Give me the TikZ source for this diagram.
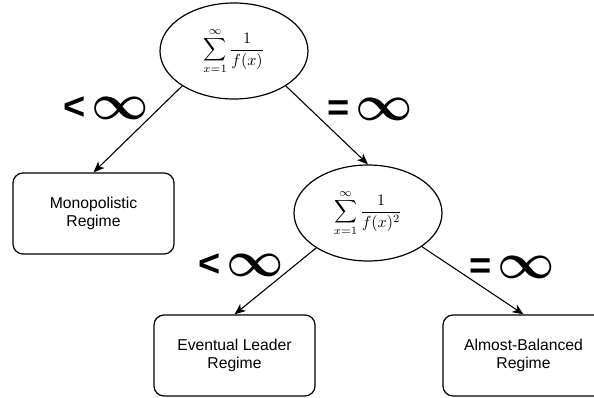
\documentclass[tikz,border=0pt]{standalone}
\usepackage{fix-cm}
\usepackage{graphicx}
\usepackage{fontspec}
\setmainfont{Liberation Sans}
\usetikzlibrary{arrows.meta,shapes.geometric}
\begin{document}
\begin{tikzpicture}[x=1pt,y=-1pt,
  ell/.style={draw, ellipse, line width=1.2pt, minimum width=148pt, minimum height=96pt, inner sep=0pt},
  box/.style={draw, rounded corners=10pt, line width=1.2pt, minimum width=161pt, minimum height=81pt, align=center, font=\fontsize{15.7}{18}\selectfont},
  edge/.style={line width=1.1pt, -{Stealth[length=11pt,width=9pt,inset=3pt]}},
  lbl/.style={inner sep=0pt, font=\fontsize{38}{38}\selectfont\bfseries}]
\useasboundingbox (0,0) rectangle (594,398);
\clip (0,0) rectangle (594,398);
\node[ell] (e1) at (234,51) {\scalebox{1.6}{$\displaystyle\sum_{x=1}^{\infty}\frac{1}{f(x)}$}};
\node[ell] (e2) at (368,213) {\scalebox{1.6}{$\displaystyle\sum_{x=1}^{\infty}\frac{1}{f(x)^2}$}};
\node[box] (b1) at (93.5,213.5) {Monopolistic\\Regime};
\node[box] (b2) at (234.5,355.5) {Eventual Leader\\Regime};
\node[box] (b3) at (523.5,355.5) {Almost-Balanced\\Regime};
\node[lbl] (l1) at (106,108) {<\hspace{6pt}{\fontsize{50}{50}\selectfont\boldmath$\infty$}};
\node[lbl] (l2) at (370,109) {=\hspace{6pt}{\fontsize{50}{50}\selectfont\boldmath$\infty$}};
\node[lbl] (l3) at (241,265) {<\hspace{6pt}{\fontsize{50}{50}\selectfont\boldmath$\infty$}};
\node[lbl] (l4) at (512,267) {=\hspace{6pt}{\fontsize{50}{50}\selectfont\boldmath$\infty$}};
\draw[edge] (e1.214) -- (b1.north);
\draw[edge] (e1.326) -- (e2.north);
\draw[edge] (e2.214) -- (b2.north);
\draw[edge] (e2.328) -- (b3.north);
\end{tikzpicture}
\end{document}
